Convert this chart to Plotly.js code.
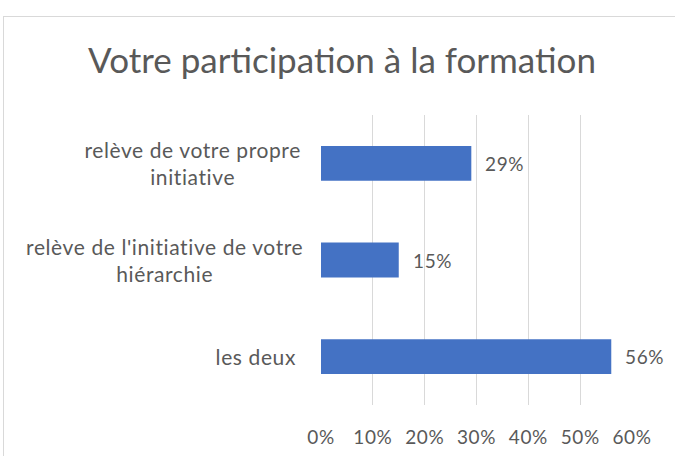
<!DOCTYPE html>
<html><head><meta charset="utf-8">
<script src="https://cdn.plot.ly/plotly-3.0.1.min.js"></script>
<style>
html,body{margin:0;padding:0;background:#fff;}
#frame{position:absolute;left:3px;top:16px;width:720px;height:520px;border:1.5px solid #d9d9d9;box-sizing:border-box;}
#chart{position:absolute;left:0;top:0;width:675px;height:456px;}
#chart .xtick text {letter-spacing:0.6px;}
#chart .annotation-text {letter-spacing:0.6px;}
</style></head>
<body><div id="frame"></div><div id="chart"></div>
<script>
const categories = ["relève de votre propre<br>initiative", "relève de l'initiative de votre<br>hiérarchie", "les deux"];
const values = [0.29, 0.15, 0.56];
const xTicks = [0, 0.1, 0.2, 0.3, 0.4, 0.5, 0.6];
const titleText = "Votre participation à la formation";

const FONT = "Lato, 'Open Sans', sans-serif";
const GREY = "#595959";

const trace = {
  type: 'bar', orientation: 'h',
  y: categories, x: values,
  marker: {color: '#4472C4'},
  width: 0.36,
  textposition: 'none',
  cliponaxis: false, hoverinfo: 'none'
};

const catAnnotations = categories.map(c => ({
  xref: 'paper', yref: 'y', x: 0, y: c, xanchor: 'right', yanchor: 'middle',
  xshift: -25, text: c, showarrow: false, align: 'center',
  font: {family: FONT, size: 21, color: GREY}
}));
const valAnnotations = categories.map((c, i) => ({
  xref: 'x', yref: 'y', x: values[i], y: c, xanchor: 'left', yanchor: 'middle',
  xshift: 13, text: Math.round(values[i] * 100) + '%', showarrow: false,
  font: {family: FONT, size: 19, color: GREY}
}));

const layout = {
  width: 675, height: 456,
  margin: {l: 321, r: 43, t: 115, b: 51},
  paper_bgcolor: 'rgba(0,0,0,0)', plot_bgcolor: 'rgba(0,0,0,0)',
  title: {text: titleText, font: {family: FONT, size: 35, color: GREY},
          x: 342 / 675, xref: 'container', xanchor: 'center', y: 1 - 61 / 456, yref: 'container', yanchor: 'middle'},
  showlegend: false,
  xaxis: {range: [0, 0.6], tickvals: xTicks, tickformat: '.0%',
          showgrid: true, gridcolor: '#d9d9d9', gridwidth: 1, zeroline: false,
          showline: false, ticks: '', ticklabelstandoff: 19,
          tickfont: {family: FONT, size: 19, color: GREY}, fixedrange: true},
  yaxis: {autorange: 'reversed', showticklabels: false, showgrid: false,
          zeroline: false, showline: false, ticks: '', fixedrange: true},
  annotations: catAnnotations.concat(valAnnotations)
};

Plotly.newPlot('chart', [trace], layout, {displayModeBar: false, staticPlot: true});
</script></body></html>
